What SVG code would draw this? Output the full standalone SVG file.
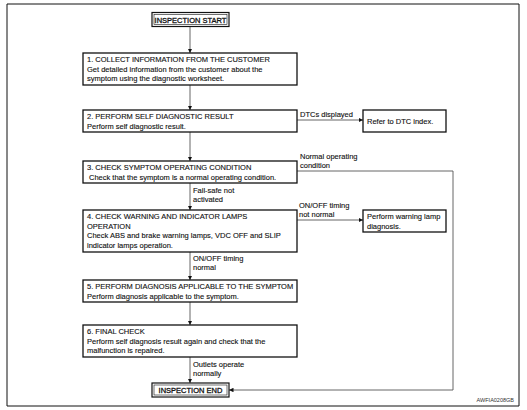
<svg xmlns="http://www.w3.org/2000/svg" width="527" height="410" viewBox="0 0 527 410">
<defs>
<style>
text{font-family:"Liberation Sans",Arial,sans-serif;font-size:7.5px;fill:#111;stroke:#111;stroke-width:0.12}
.box{fill:#fff;stroke:#111;stroke-width:1.3}
.term{fill:#fff;stroke:#111;stroke-width:1.2}
.inner{fill:none;stroke:#111;stroke-width:0.6}
.conn{fill:none;stroke:#555;stroke-width:0.9}
.ctr{text-anchor:middle}
.termtext{stroke-width:0.3}
</style>
<marker id="arr" viewBox="0 0 6 6" refX="6" refY="3" markerWidth="4.5" markerHeight="4.5" orient="auto" markerUnits="userSpaceOnUse">
<path d="M0,0 L6,3 L0,6 Z" fill="#111"/>
</marker>
</defs>
<rect x="0" y="0" width="527" height="410" fill="#fff"/>
<path d="M7,406 V4 H519 V406 H7" fill="none" stroke="#111" stroke-width="1"/>

<g id="connectors">
<line class="conn" x1="190" y1="27" x2="190" y2="53" marker-end="url(#arr)"/>
<line class="conn" x1="190" y1="85" x2="190" y2="110" marker-end="url(#arr)"/>
<line class="conn" x1="190" y1="132" x2="190" y2="161" marker-end="url(#arr)"/>
<line class="conn" x1="190" y1="183" x2="190" y2="210" marker-end="url(#arr)"/>
<line class="conn" x1="190" y1="252" x2="190" y2="280" marker-end="url(#arr)"/>
<line class="conn" x1="190" y1="302" x2="190" y2="325" marker-end="url(#arr)"/>
<line class="conn" x1="190" y1="357" x2="190" y2="383" marker-end="url(#arr)"/>
<line class="conn" x1="297" y1="120" x2="363" y2="120" marker-end="url(#arr)"/>
<line class="conn" x1="297" y1="220" x2="363" y2="220" marker-end="url(#arr)"/>
<polyline class="conn" points="297,171 453,171 453,390 229,390" marker-end="url(#arr)"/>
<text x="300" y="117">DTCs displayed</text>
<text x="300" y="159">Normal operating</text>
<text x="300" y="168">condition</text>
<text x="193" y="192.5">Fail-safe not</text>
<text x="193" y="201.5">activated</text>
<text x="299" y="207.5">ON/OFF timing</text>
<text x="299" y="216.5">not normal</text>
<text x="193" y="261">ON/OFF timing</text>
<text x="193" y="270">normal</text>
<text x="193" y="366.5">Outlets operate</text>
<text x="193" y="375.5">normally</text>
</g>

<g id="start">
<rect class="term" x="152" y="12.5" width="77" height="14"/>
<rect class="inner" x="154" y="14.5" width="73" height="10"/>
<text class="ctr termtext" x="190.5" y="22.5">INSPECTION START</text>
</g>

<g id="step1">
<rect class="box" x="83" y="53" width="214" height="32"/>
<text x="87" y="62">1. COLLECT INFORMATION FROM THE CUSTOMER</text>
<text x="87" y="71.5">Get detailed information from the customer about the</text>
<text x="87" y="81">symptom using the diagnostic worksheet.</text>
</g>

<g id="step2">
<rect class="box" x="83" y="110" width="214" height="22"/>
<text x="87" y="119">2. PERFORM SELF DIAGNOSTIC RESULT</text>
<text x="87" y="128.5">Perform self diagnostic result.</text>
</g>

<g id="dtc">
<rect class="box" x="363" y="110" width="83" height="22"/>
<text x="367" y="123.5">Refer to DTC index.</text>
</g>

<g id="step3">
<rect class="box" x="83" y="161" width="214" height="22"/>
<text x="87" y="170">3. CHECK SYMPTOM OPERATING CONDITION</text>
<text x="89" y="179.5">Check that the symptom is a normal operating condition.</text>
</g>

<g id="step4">
<rect class="box" x="83" y="210" width="214" height="42"/>
<text x="87" y="219">4. CHECK WARNING AND INDICATOR LAMPS</text>
<text x="87" y="228.5">OPERATION</text>
<text x="87" y="238">Check ABS and brake warning lamps, VDC OFF and SLIP</text>
<text x="87" y="247.5">indicator lamps operation.</text>
</g>

<g id="warning">
<rect class="box" x="363" y="210" width="83" height="22"/>
<text x="367" y="219">Perform warning lamp</text>
<text x="367" y="228.5">diagnosis.</text>
</g>

<g id="step5">
<rect class="box" x="83" y="280" width="214" height="22"/>
<text x="87" y="289">5. PERFORM DIAGNOSIS APPLICABLE TO THE SYMPTOM</text>
<text x="87" y="298.5">Perform diagnosis applicable to the symptom.</text>
</g>

<g id="step6">
<rect class="box" x="83" y="325" width="214" height="32"/>
<text x="87" y="334">6. FINAL CHECK</text>
<text x="87" y="343.5">Perform self diagnosis result again and check that the</text>
<text x="87" y="353">malfunction is repaired.</text>
</g>

<g id="end">
<rect class="term" x="152" y="383" width="77" height="14"/>
<rect class="inner" x="154" y="385" width="73" height="10"/>
<text class="ctr termtext" x="190.5" y="393">INSPECTION END</text>
</g>

<text x="514" y="402" style="font-size:5.5px;text-anchor:end;fill:#333;stroke:none">AWFIA0208GB</text>
</svg>
